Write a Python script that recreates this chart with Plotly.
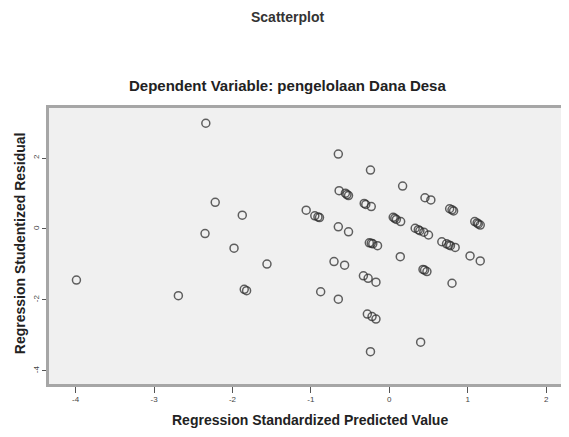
import plotly.graph_objects as go

# Regression Standardized Predicted Value
pred = [-2.34, -2.22, -1.875, -2.35, -1.98, -1.56, -1.85, -1.82, -3.99, -2.69,
        -0.65, -0.24, 0.17, 0.455, 0.53, 0.77, 0.80, 0.82, 1.09, 1.12, 1.135, 1.16,
        -0.64, -0.56, -0.54, -0.52, -0.32, -0.30, -0.23, -1.06, -0.95, -0.91, -0.89,
        -0.65, -0.52, 0.05, 0.07, 0.09, 0.145, 0.33, 0.37, 0.39, 0.44, 0.50,
        0.67, 0.73, 0.76, 0.78, 0.84, 1.03, 1.16, -0.255, -0.23, -0.21, -0.15,
        0.14, 0.43, 0.45, 0.48, -0.705, -0.57, -0.33, -0.27, -0.17, 0.80,
        -0.875, -0.65, -0.28, -0.22, -0.17, 0.40, -0.24]

# Regression Studentized Residual
resid = [2.98, 0.75, 0.39, -0.13, -0.54, -0.99, -1.70, -1.74, -1.44, -1.88,
         2.11, 1.66, 1.21, 0.88, 0.82, 0.57, 0.54, 0.51, 0.21, 0.17, 0.14, 0.11,
         1.08, 1.01, 0.97, 0.94, 0.72, 0.69, 0.63, 0.53, 0.37, 0.34, 0.32,
         0.06, -0.08, 0.33, 0.30, 0.27, 0.21, 0.02, -0.02, -0.05, -0.09, -0.17,
         -0.36, -0.42, -0.45, -0.47, -0.52, -0.76, -0.90, -0.39, -0.40, -0.42, -0.47,
         -0.78, -1.14, -1.16, -1.20, -0.92, -1.02, -1.32, -1.39, -1.50, -1.53,
         -1.77, -1.98, -2.40, -2.47, -2.54, -3.19, -3.46]

x_ticks = [-4, -3, -2, -1, 0, 1, 2]
y_ticks = [-4, -2, 0, 2]

main_title = "Scatterplot"
sub_title = "Dependent Variable: pengelolaan Dana Desa"
x_title = "Regression Standardized Predicted Value"
y_title = "Regression Studentized Residual"

FONT = "Liberation Sans, Arial, sans-serif"

fig = go.Figure()
fig.add_trace(go.Scatter(
    x=pred, y=resid, mode="markers",
    marker=dict(symbol="circle-open", size=8,
                color="rgba(45,45,45,0.75)", line=dict(width=1.5)),
    hoverinfo="x+y", showlegend=False,
))

fig.update_layout(
    width=561, height=429,
    margin=dict(l=41, r=0, t=100, b=53),
    paper_bgcolor="white",
    plot_bgcolor="#f0f0f0",
    font=dict(family=FONT, color="#222"),
    showlegend=False,
    xaxis=dict(range=[-4.34, 2.292], tickvals=x_ticks, ticktext=[str(v) for v in x_ticks],
               showgrid=False, zeroline=False, showline=True, linewidth=2.5,
               linecolor="#a6a6a6", mirror=True, ticks="outside", ticklen=6,
               tickwidth=1, tickcolor="#555", tickfont=dict(size=8, color="#444")),
    yaxis=dict(range=[-4.37, 3.41], tickvals=y_ticks, ticktext=[str(v) for v in y_ticks],
               showgrid=False, zeroline=False, showline=True, linewidth=2.5,
               linecolor="#a6a6a6", mirror=False, ticks="outside", ticklen=4,
               tickwidth=1, tickcolor="#555", tickangle=-90,
               tickfont=dict(size=8, color="#444")),
    annotations=[
        dict(text="<b>" + main_title + "</b>", x=0.4596, y=1.3297, xref="paper", yref="paper",
             xanchor="center", yanchor="middle", showarrow=False,
             font=dict(size=14, family=FONT, color="#333")),
        dict(text="<b>" + sub_title + "</b>", x=0.4596, y=1.0833, xref="paper", yref="paper",
             xanchor="center", yanchor="middle", showarrow=False,
             font=dict(size=15, family=FONT, color="#222")),
        dict(text="<b>" + x_title + "</b>", x=0.502, y=-0.1304, xref="paper", yref="paper",
             xanchor="center", yanchor="middle", showarrow=False,
             font=dict(size=14, family=FONT, color="#222")),
        dict(text="<b>" + y_title + "</b>", x=-0.0558, y=0.51, xref="paper", yref="paper",
             xanchor="center", yanchor="middle", showarrow=False, textangle=-90,
             font=dict(size=14, family=FONT, color="#222")),
    ],
)

fig.write_html("out.html")
